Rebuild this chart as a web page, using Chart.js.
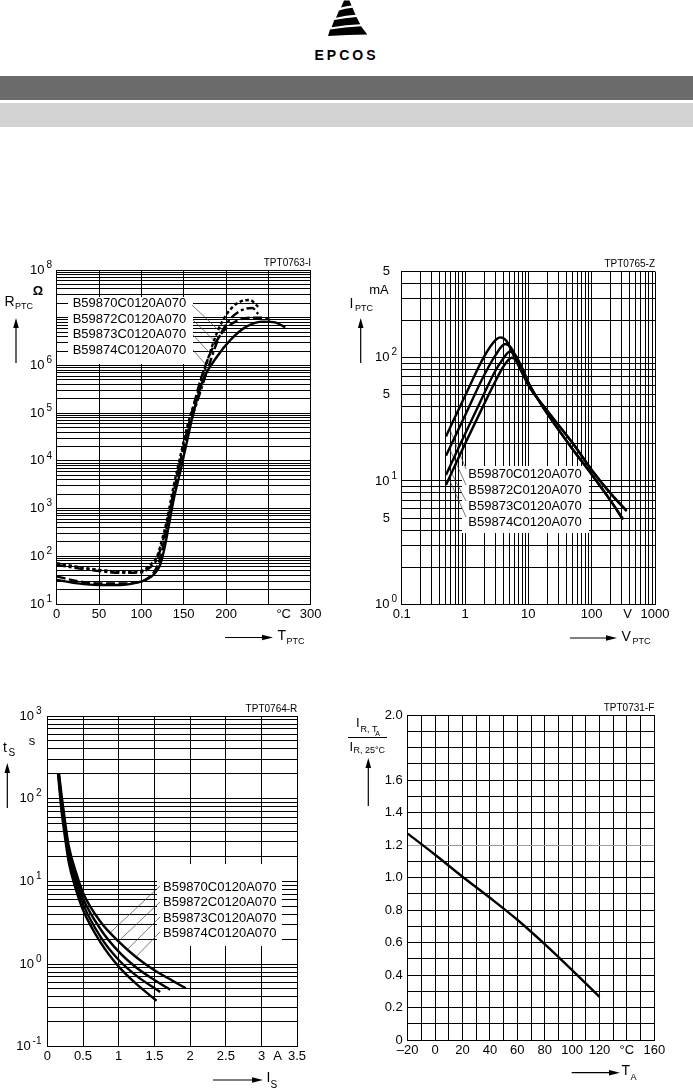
<!DOCTYPE html>
<html>
<head>
<meta charset="utf-8">
<script src="https://cdn.jsdelivr.net/npm/chart.js@4.4.0/dist/chart.umd.min.js"></script>
<style>
  body { margin: 0; background: #fff; width: 693px; height: 1088px; overflow: hidden; position: relative; }
  canvas { position: absolute; left: 0; top: 0; }
  .bar1 { position: absolute; left: 0; top: 76px; width: 693px; height: 24px; background: #6b6b6b; }
  .bar2 { position: absolute; left: 0; top: 103px; width: 693px; height: 24px; background: #d3d3d3; }
</style>
</head>
<body>
<svg style="position:absolute;left:0;top:0" width="693" height="70">
  <path d="M344,0.5 L349.5,0.5 L351.5,5.5 Q346,6 341,7.5 Z"/>
  <path d="M339,10.5 Q345,8.5 352.5,7.8 L355.5,14.8 Q346,15.5 336,17.8 Z"/>
  <path d="M334.3,20 Q345,17.8 356.5,17 L360.2,24.3 Q346,25 331.6,27.3 Z"/>
  <path d="M330,29.5 Q345,27 361,26.2 L367.3,34.5 Q347,34.6 328,36 Z"/>
  <text x="346.5" y="59.5" text-anchor="middle" font-family="Liberation Sans, Arial, sans-serif" font-weight="bold" font-size="14" letter-spacing="3">EPCOS</text>
</svg>
<div class="bar1"></div>
<div class="bar2"></div>
<canvas id="c1" width="693" height="1088"></canvas>
<canvas id="c2" width="693" height="1088"></canvas>
<canvas id="c3" width="693" height="1088"></canvas>
<canvas id="c4" width="693" height="1088"></canvas>
<script>
// ============================
// chart 1: R_PTC over T_PTC  [T in °C, R in Ω]
const types = ['B59870C0120A070', 'B59872C0120A070', 'B59873C0120A070', 'B59874C0120A070'];
const rExp = [1, 2, 3, 4, 5, 6, 8];
const tLabels = [0, 50, 100, 150, 200, 300];
const r59870 = [[0,72],[25,60],[50,52],[75,48],[100,49],[110,66],[118,95],[123,180],[130,560],[138,2900],[146,12500],[155,60000],[165,2.2e5],[177,1.1e6],[189,4.7e6],[201,1.2e7],[215,2.1e7],[228,2.35e7],[238,1.7e7]];
const r59872 = [[0,66],[25,56],[50,49],[75,45],[100,46],[110,58],[118,85],[124,170],[131,520],[139,2600],[147,11500],[157,55000],[167,2e5],[179,9e5],[191,3.6e6],[203,8.5e6],[217,1.4e7],[231,1.6e7],[238,1.2e7]];
const r59873 = [[0,38],[25,30],[50,27],[75,27],[98,29],[108,35],[116,50],[122,90],[128,260],[135,1200],[143,5500],[151,25000],[160,1.1e5],[170,5e5],[182,1.9e6],[196,5e6],[212,8.5e6],[228,1.0e7],[244,1.0e7],[252,9e6]];
const r59874 = [[0,32],[25,27],[50,25],[75,25],[95,28],[105,32],[115,42],[122,65],[127,140],[132,400],[138,1500],[146,6000],[154,26000],[162,1.1e5],[173,5e5],[189,1.5e6],[205,3.4e6],[224,6.5e6],[244,8.3e6],[258,8e6],[270,6.3e6]];
const rLeaders = [[193,5.1e6],[187,3.2e6],[181,1.8e6],[177,1.0e6]];

// chart 2: I_PTC over V_PTC  [V in V, I in mA]
const iLabels5 = [500, 50, 5];
const iExp = [2, 1, 0];
const vLabels = [0.1, 1, 10, 100, 1000];
const i59870 = [[0.5,23],[1,49],[2,102],[3,138],[3.6,146],[4.5,137],[6,101],[8,75],[10,60],[20,37],[50,20.3],[100,12.3],[200,7.9],[357,5.7]];
const i59872 = [[0.5,16],[1,34],[2,72],[3,104],[4.3,129],[5.3,121],[7,92],[8.5,73],[10,60],[20,37],[50,20.3],[100,12.3],[200,7.9],[350,5.8]];
const i59873 = [[0.5,11.2],[1,24],[2,51],[3,78],[4,98],[5.1,112],[6.3,104],[8,82],[10,63],[15,44],[20,35],[50,18.1],[100,11.3],[200,6.9],[316,4.9]];
const i59874 = [[0.5,9.3],[1,20],[2,42],[3,64],[4,84],[5.45,100],[6.8,93],[8.5,77],[10,63],[15,44],[20,35],[50,18.1],[100,11.3],[200,6.9],[310,4.85]];
const iLeaders = [[0.57,26.5],[0.57,18.3],[0.56,12.6],[0.56,10.4]];

// chart 3: t_S over I_S  [I in A, t in s]
const sExp = ['3', '2', '1', '0', '-1'];
const aLabels = ['0', '0.5', '1', '1.5', '2', '2.5', '3'];
const s59870 = [[0.15,200],[0.2,70],[0.25,33],[0.3,17],[0.4,8],[0.5,4.5],[0.75,1.8],[1,0.93],[1.25,0.57],[1.53,0.36]];
const s59872 = [[0.155,200],[0.2,82],[0.25,39],[0.3,20],[0.4,9.3],[0.5,5.3],[0.75,2.1],[1,1.12],[1.25,0.72],[1.58,0.46]];
const s59873 = [[0.16,200],[0.2,95],[0.25,45],[0.3,23],[0.4,11],[0.5,6.2],[0.75,2.6],[1,1.41],[1.25,0.9],[1.5,0.64],[1.72,0.49]];
const s59874 = [[0.165,200],[0.2,110],[0.25,52],[0.3,27],[0.4,13],[0.5,7.3],[0.75,3.2],[1,1.87],[1.25,1.2],[1.5,0.84],[1.75,0.63],[1.94,0.51]];
const sLeaders = [[0.88,2.4],[1.0,1.9],[1.12,1.5],[1.24,1.22]];

// chart 4: I_R,TA / I_R,25°C over T_A
const ratioLabels = [2.0, 1.6, 1.4, 1.2, 1.0, 0.8, 0.6, 0.4, 0.2, 0];
const taLabels = [-20, 0, 20, 40, 60, 80, 100, 120, 160];
const ratio = [[-20,1.27],[0,1.14],[20,1.005],[40,0.875],[60,0.74],[80,0.59],[100,0.43],[120,0.265]];

// ============================
const FONT = '"Liberation Sans", Arial, Helvetica, sans-serif';

function txt(ctx, s, x, y, size, align, bold) {
  ctx.font = (bold ? 'bold ' : '') + size + 'px ' + FONT;
  ctx.textAlign = align || 'left';
  ctx.textBaseline = 'middle';
  ctx.fillStyle = '#000';
  ctx.fillText(s, x, y);
}

function pow10(ctx, exp, xr, y) {
  ctx.font = '10px ' + FONT;
  const w = ctx.measureText(exp).width;
  txt(ctx, exp, xr, y - 5, 10, 'right');
  txt(ctx, '10', xr - w - 2, y, 13, 'right');
}

function arrowUp(ctx, x, y0, y1) {
  ctx.strokeStyle = '#000'; ctx.lineWidth = 1.2; ctx.setLineDash([]);
  ctx.beginPath(); ctx.moveTo(x, y0); ctx.lineTo(x, y1 + 8); ctx.stroke();
  ctx.beginPath(); ctx.moveTo(x, y1); ctx.lineTo(x - 2.8, y1 + 10); ctx.lineTo(x + 2.8, y1 + 10); ctx.closePath(); ctx.fill();
}

function arrowRight(ctx, x0, x1, y) {
  ctx.strokeStyle = '#000'; ctx.lineWidth = 1.2; ctx.setLineDash([]);
  ctx.beginPath(); ctx.moveTo(x0, y); ctx.lineTo(x1 - 8, y); ctx.stroke();
  ctx.beginPath(); ctx.moveTo(x1, y); ctx.lineTo(x1 - 11, y - 2.8); ctx.lineTo(x1 - 11, y + 2.8); ctx.closePath(); ctx.fill();
}

// white label box with type names and thin leader lines
function labelBox(ctx, chart, box, tx, ty, starts, targets) {
  ctx.save();
  ctx.fillStyle = '#fff';
  ctx.fillRect(box[0], box[1], box[2], box[3]);
  types.forEach((t, i) => txt(ctx, t, tx, ty[i], 13));
  ctx.strokeStyle = '#444'; ctx.lineWidth = 0.7; ctx.setLineDash([]);
  targets.forEach((p, i) => {
    ctx.beginPath();
    ctx.moveTo(starts[i][0], starts[i][1]);
    ctx.lineTo(chart.scales.x.getPixelForValue(p[0]), chart.scales.y.getPixelForValue(p[1]));
    ctx.stroke();
  });
  ctx.restore();
}

function logTicks(lo, hi, top) {
  const out = [];
  for (let e = lo; e < hi; e++) for (let m = 1; m < 10; m++) out.push(m * Math.pow(10, e));
  (top || [Math.pow(10, hi)]).forEach(v => out.push(v));
  return out;
}

function stepTicks(min, max, step) {
  const out = [];
  for (let v = min; v <= max + step / 2; v += step) out.push(Math.round(v * 1000) / 1000);
  return out;
}

function axis(type, min, max, ticks, gridColor) {
  return {
    type, min, max,
    afterBuildTicks: s => { s.ticks = ticks.map(v => ({ value: v })); },
    ticks: { display: false },
    grid: { color: gridColor || '#000', lineWidth: 1, drawTicks: false },
    border: { display: true, color: '#000', width: 1 }
  };
}

function curve(pairs, dash) {
  return {
    data: pairs.map(p => ({ x: p[0], y: p[1] })),
    borderColor: '#000', borderWidth: 2.4, borderDash: dash || [],
    pointRadius: 0, fill: false, cubicInterpolationMode: 'monotone'
  };
}

function makeChart(id, area, datasets, xScale, yScale, plugin) {
  return new Chart(document.getElementById(id), {
    type: 'line',
    data: { datasets },
    options: {
      responsive: false, animation: false, devicePixelRatio: 1, events: [],
      layout: { autoPadding: false, padding: { left: area[0], top: area[1], right: 693 - area[2], bottom: 1088 - area[3] } },
      scales: { x: xScale, y: yScale },
      plugins: { legend: { display: false }, tooltip: { enabled: false } }
    },
    plugins: [plugin]
  });
}

// ============================
makeChart('c1', [56.7, 270, 310.7, 604],
  [curve(r59870, [3.5, 2.5]), curve(r59872, [9, 3, 3, 3]), curve(r59873, [9, 3.5]), curve(r59874)],
  axis('linear', 0, 300, stepTicks(0, 300, 50)),
  axis('logarithmic', 10, 1e8, logTicks(1, 8)),
  {
    id: 'decor1',
    beforeDatasetsDraw(chart) {
      labelBox(chart.ctx, chart, [68, 297, 125, 67], 72.7, [303.3, 319, 334.7, 350.7],
        [[192, 305], [193, 320], [193, 335], [193, 350]], rLeaders);
    },
    afterDraw(chart) {
      const ctx = chart.ctx, xs = chart.scales.x, ys = chart.scales.y;
      txt(ctx, 'TPT0763-I', 311, 263.5, 10, 'right');
      rExp.forEach(e => pow10(ctx, String(e), 52, ys.getPixelForValue(Math.pow(10, e))));
      txt(ctx, 'Ω', 38, 291, 13, 'center', true);
      txt(ctx, 'R', 4.5, 302, 14);
      txt(ctx, 'PTC', 15, 306.5, 9);
      arrowUp(ctx, 16, 363, 318);
      tLabels.forEach(v => txt(ctx, String(v), xs.getPixelForValue(v), 614, 13, 'center'));
      txt(ctx, '°C', 291, 614, 13, 'right');
      arrowRight(ctx, 225, 273, 637.5);
      txt(ctx, 'T', 277.5, 636.5, 14);
      txt(ctx, 'PTC', 286.5, 641.5, 9);
    }
  });

makeChart('c2', [401.7, 271.5, 655, 604.3],
  [curve(i59870), curve(i59872), curve(i59873), curve(i59874)],
  axis('logarithmic', 0.1, 1000, logTicks(-1, 3)),
  axis('logarithmic', 1, 500, logTicks(0, 2, [100, 200, 300, 400, 500])),
  {
    id: 'decor2',
    beforeDatasetsDraw(chart) {
      labelBox(chart.ctx, chart, [462, 466, 127, 67], 468.3, [474, 490, 506, 522],
        [[466, 469], [466, 485], [466, 501], [466, 517]], iLeaders);
    },
    afterDraw(chart) {
      const ctx = chart.ctx, xs = chart.scales.x, ys = chart.scales.y;
      txt(ctx, 'TPT0765-Z', 655, 264, 10, 'right');
      iExp.forEach(e => pow10(ctx, String(e), 397, ys.getPixelForValue(Math.pow(10, e))));
      iLabels5.forEach(v => txt(ctx, '5', 390, ys.getPixelForValue(v), 13, 'right'));
      txt(ctx, 'mA', 379, 290.5, 13, 'center');
      txt(ctx, 'I', 349.5, 304.5, 14);
      txt(ctx, 'PTC', 355, 309, 9);
      arrowUp(ctx, 360.7, 363, 318);
      vLabels.forEach(v => txt(ctx, String(v), xs.getPixelForValue(v), 614, 13, 'center'));
      txt(ctx, 'V', 627.5, 614, 13, 'center');
      arrowRight(ctx, 570, 617, 638);
      txt(ctx, 'V', 621.5, 637, 14);
      txt(ctx, 'PTC', 632.5, 642, 9);
    }
  });

makeChart('c3', [47.3, 716, 297.3, 1046.7],
  [curve(s59870), curve(s59872), curve(s59873), curve(s59874)],
  axis('linear', 0, 3.5, stepTicks(0, 3.5, 0.5)),
  axis('logarithmic', 0.1, 1000, logTicks(-1, 3)),
  {
    id: 'decor3',
    beforeDatasetsDraw(chart) {
      labelBox(chart.ctx, chart, [157, 864, 125, 82], 163, [887, 902.5, 918, 933.5],
        [[160, 886], [160, 902], [160, 917], [160, 932]], sLeaders);
    },
    afterDraw(chart) {
      const ctx = chart.ctx, xs = chart.scales.x, ys = chart.scales.y;
      txt(ctx, 'TPT0764-R', 297.3, 709, 10, 'right');
      sExp.forEach(e => pow10(ctx, e, 41.5, ys.getPixelForValue(Math.pow(10, Number(e)))));
      txt(ctx, 's', 32, 741, 13, 'center');
      txt(ctx, 't', 3, 748.5, 14);
      txt(ctx, 'S', 8.5, 753, 10);
      arrowUp(ctx, 7.3, 808, 763);
      aLabels.forEach(v => txt(ctx, v, xs.getPixelForValue(Number(v)), 1056.7, 13, 'center'));
      txt(ctx, 'A', 277.5, 1056.7, 13, 'center');
      txt(ctx, '3.5', 297, 1056.7, 13, 'center');
      arrowRight(ctx, 213, 263, 1080);
      txt(ctx, 'I', 266.5, 1078, 14);
      txt(ctx, 'S', 270.5, 1085, 10);
    }
  });

makeChart('c4', [407.7, 715, 654.3, 1040],
  [curve(ratio)],
  axis('linear', -20, 160, stepTicks(-20, 160, 10)),
  axis('linear', 0, 2.0, stepTicks(0, 2.0, 0.1), c => (c.tick && Math.abs(c.tick.value - 1.2) < 1e-6) ? '#a0a0a0' : '#000'),
  {
    id: 'decor4',
    afterDraw(chart) {
      const ctx = chart.ctx, xs = chart.scales.x, ys = chart.scales.y;
      txt(ctx, 'TPT0731-F', 654.3, 708, 10, 'right');
      ratioLabels.forEach(v => txt(ctx, v === 0 ? '0' : v.toFixed(1), 402.7, ys.getPixelForValue(v), 13, 'right'));
      taLabels.forEach(v => txt(ctx, v < 0 ? '–' + (-v) : String(v), xs.getPixelForValue(v), 1050.7, 13, 'center'));
      txt(ctx, '°C', xs.getPixelForValue(140), 1050.7, 13, 'center');
      txt(ctx, 'I', 356, 723, 13);
      txt(ctx, 'R, T', 360.5, 730, 9);
      txt(ctx, 'A', 375.3, 734.5, 7);
      ctx.fillRect(348, 737, 39, 1);
      txt(ctx, 'I', 349.5, 747, 13);
      txt(ctx, 'R, 25°C', 353.5, 751, 9);
      arrowUp(ctx, 368.3, 806, 758);
      arrowRight(ctx, 571.7, 620, 1072.7);
      txt(ctx, 'T', 621.5, 1071, 14);
      txt(ctx, 'A', 630.5, 1077.5, 9);
    }
  });
</script>
</body>
</html>
